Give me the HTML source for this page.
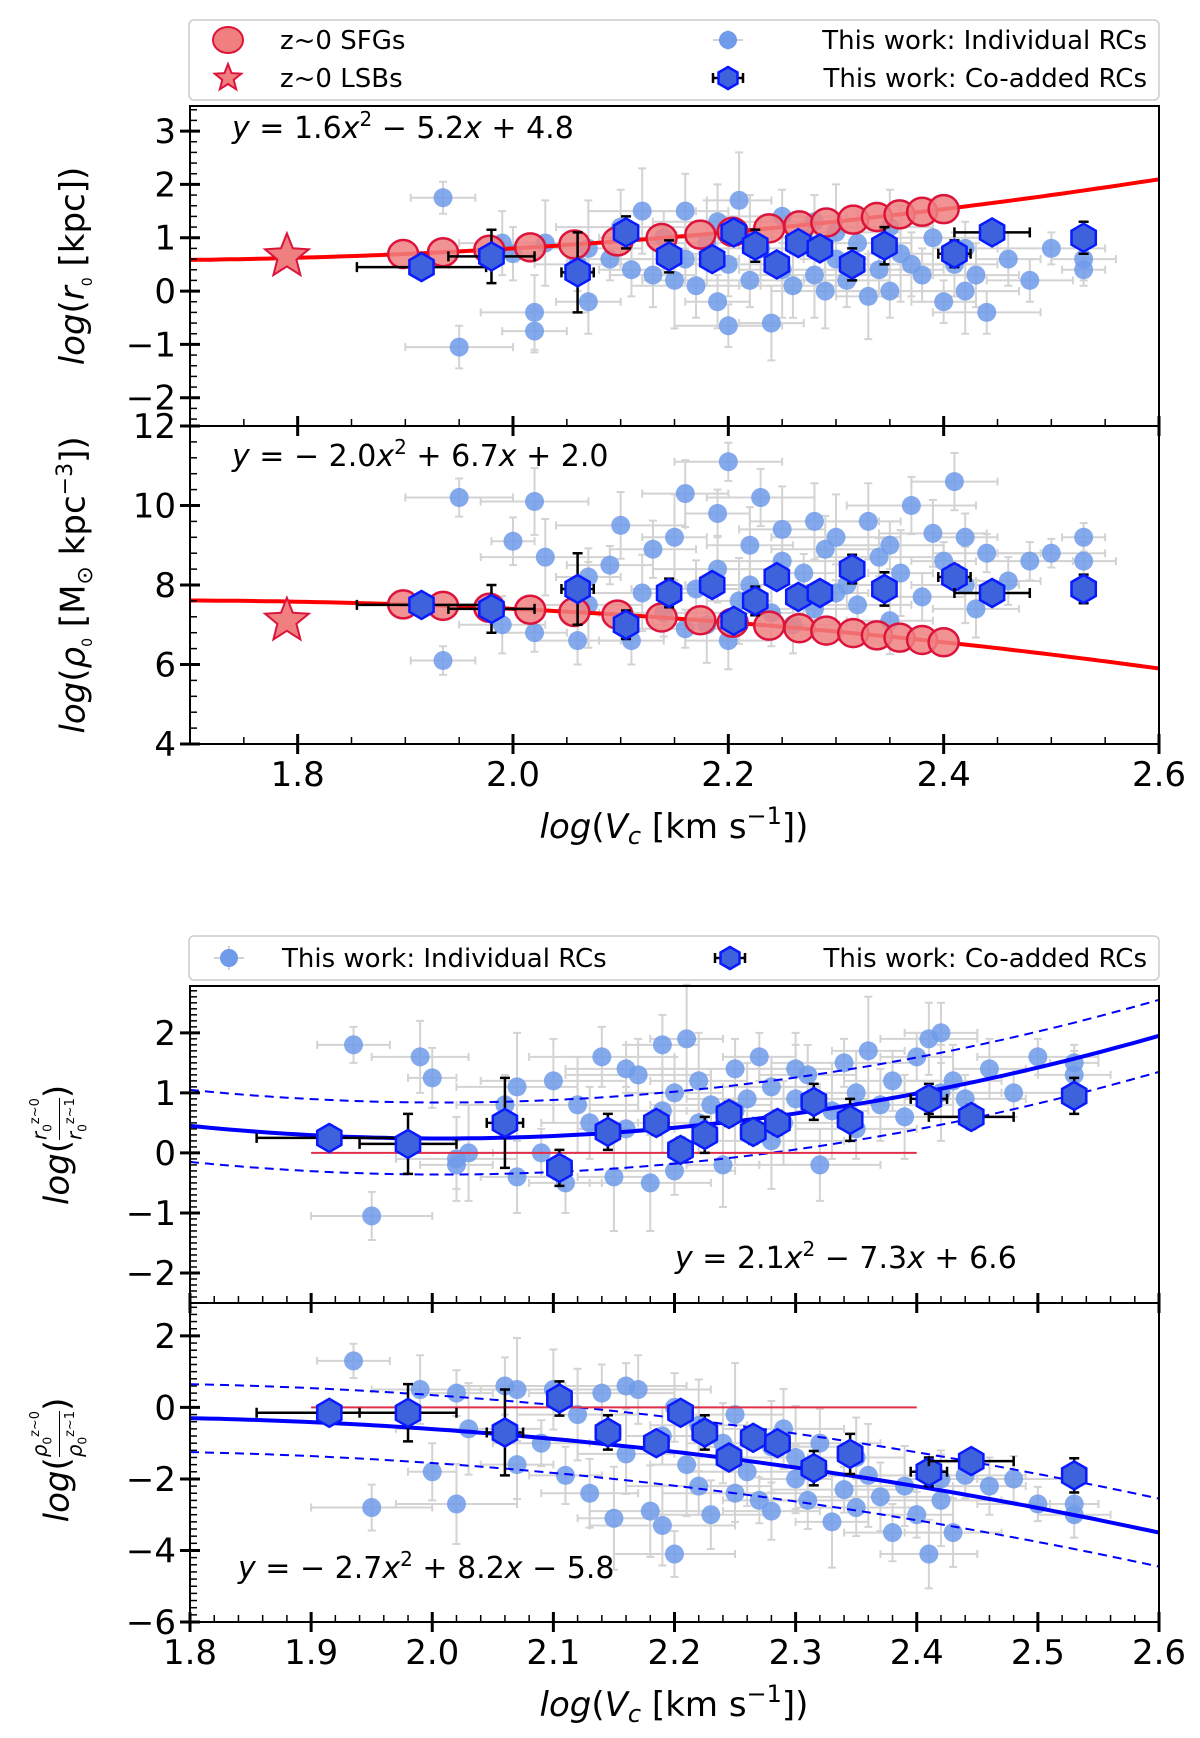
<!DOCTYPE html>
<html><head><meta charset="utf-8"><style>
body{margin:0;background:#fff;}
svg{display:block;font-family:"DejaVu Sans","Liberation Sans",sans-serif;}
</style></head><body>
<svg id="fig" width="1200" height="1738" viewBox="0 0 1200 1738" xmlns="http://www.w3.org/2000/svg"></svg>
<script>
const indX=[1.935,1.95,1.99,2.0,2.02,2.02,2.03,2.06,2.07,2.07,2.09,2.10,2.11,2.12,2.13,2.14,2.15,2.16,2.16,2.17,2.18,2.19,2.19,2.2,2.2,2.21,2.22,2.22,2.23,2.24,2.25,2.25,2.26,2.27,2.28,2.28,2.29,2.3,2.3,2.31,2.32,2.33,2.34,2.35,2.35,2.36,2.37,2.38,2.39,2.4,2.41,2.42,2.42,2.43,2.44,2.46,2.48,2.5,2.53,2.53];
const indY1=[1.75,-1.05,0.9,0.7,-0.4,-0.75,0.9,0.5,-0.2,0.8,0.6,1.2,0.4,1.5,0.3,1.0,0.2,0.6,1.5,0.1,0.9,-0.2,1.3,0.5,-0.65,1.7,0.2,1.0,0.8,-0.6,1.4,0.4,0.1,1.0,0.3,1.3,0.0,0.6,1.1,0.2,0.9,-0.1,0.4,1.2,0.0,0.7,0.5,0.3,1.0,-0.2,0.5,0.0,0.8,0.3,-0.4,0.6,0.2,0.8,0.4,0.6];
const indY2=[6.1,10.2,7.0,9.1,10.1,6.8,8.7,6.6,8.2,7.5,8.5,9.5,6.6,7.8,8.9,7.3,9.2,6.9,10.3,7.9,7.0,9.8,8.4,6.6,11.1,7.6,8.0,9.0,10.2,7.3,8.6,9.4,7.0,8.3,9.6,7.4,8.9,7.8,9.2,8.0,7.5,9.6,8.7,7.1,9.0,8.3,10.0,7.7,9.3,8.6,10.6,8.0,9.2,7.4,8.8,8.1,8.6,8.8,9.2,8.6];
const indY3=[1.8,-1.05,1.6,1.25,-0.1,-0.2,0.0,0.8,-0.4,1.1,0.0,1.2,-0.5,0.8,0.5,1.6,-0.4,1.4,0.4,1.3,-0.5,1.8,0.7,1.0,-0.3,1.9,0.5,1.2,0.8,-0.2,1.4,0.7,0.9,1.6,0.2,1.1,0.5,1.4,0.9,1.3,-0.2,0.7,1.5,1.0,0.4,1.7,0.8,1.2,0.6,1.6,1.9,1.0,2.0,1.2,0.9,1.4,1.0,1.6,1.5,1.3];
const indY4=[1.3,-2.8,0.5,-1.8,-2.7,0.4,-0.6,0.6,-1.6,0.5,-1.0,0.5,-1.9,-0.2,-2.4,0.4,-3.1,0.6,-1.3,0.5,-2.9,-0.8,-3.3,0.0,-4.1,-1.6,-2.2,-0.5,-3.0,-1.0,-2.4,-0.2,-1.8,-2.6,-1.1,-2.9,-0.6,-2.0,-1.4,-2.6,-1.0,-3.2,-2.3,-1.4,-2.8,-1.9,-2.5,-3.5,-2.2,-3.0,-4.1,-2.6,-2.0,-3.5,-1.9,-2.2,-2.0,-2.7,-2.7,-3.0];
const indXerr=[0.03,0.05,0.04,0.02,0.05,0.03,0.06,0.04,0.03,0.05,0.04,0.06,0.03,0.05,0.04,0.06,0.03,0.05,0.04,0.06,0.05,0.03,0.06,0.04,0.05,0.03,0.06,0.04,0.05,0.03,0.06,0.04,0.05,0.03,0.06,0.04,0.05,0.03,0.06,0.04,0.05,0.03,0.06,0.04,0.05,0.03,0.06,0.04,0.05,0.03,0.04,0.05,0.03,0.04,0.05,0.03,0.04,0.05,0.02,0.03];
const indYerr=[0.3,0.4,0.6,0.5,0.7,0.4,0.8,0.5,0.6,0.9,0.4,0.7,0.5,0.8,0.6,0.5,0.9,0.4,0.7,0.6,0.8,0.5,0.7,0.6,0.4,0.9,0.5,0.8,0.6,0.7,0.5,0.9,0.6,0.4,0.8,0.5,0.7,0.6,0.9,0.5,0.6,0.8,0.4,0.7,0.5,0.9,0.6,0.5,0.7,0.4,0.6,0.8,0.5,0.6,0.4,0.5,0.4,0.3,0.3,0.4];
const coX=[1.915,1.98,2.06,2.105,2.145,2.185,2.205,2.225,2.245,2.265,2.285,2.315,2.345,2.41,2.445,2.53];
const coXerr=[0.06,0.04,0.015,0.01,0.01,0.01,0.01,0.01,0.01,0.01,0.01,0.01,0.01,0.015,0.035,0.005];
const coY1=[0.45,0.65,0.35,1.1,0.65,0.6,1.1,0.85,0.5,0.9,0.8,0.5,0.85,0.7,1.1,1.0];
const coY2=[7.5,7.4,7.9,7.0,7.8,8.0,7.1,7.6,8.2,7.7,7.8,8.4,7.9,8.2,7.8,7.9];
const coY3=[0.25,0.15,0.5,-0.25,0.35,0.5,0.05,0.3,0.65,0.35,0.5,0.85,0.55,0.9,0.6,0.95];
const coY4=[-0.15,-0.15,-0.7,0.25,-0.7,-1.0,-0.15,-0.7,-1.4,-0.85,-1.0,-1.7,-1.3,-1.8,-1.5,-1.9];
const coYerr=[0.15,0.5,0.75,0.3,0.3,0.2,0.2,0.3,0.2,0.2,0.2,0.3,0.35,0.25,0.2,0.3];
const sfgX=[1.898,1.935,1.978,2.016,2.057,2.097,2.138,2.174,2.204,2.238,2.266,2.291,2.316,2.338,2.359,2.38,2.40];
const lsbX=[1.79];const lsbY1=[0.65];const lsbY2=[7.1];
const fit1=[1.6,-5.2,4.8], fit2=[-2.0,6.7,2.0];
const fit3Pts=[[1.8,0.45],[2.2,0.42],[2.6,1.95]], fit3Band=0.6;
const fit4Pts=[[1.8,-0.3],[2.2,-1.24],[2.6,-3.5]], fit4Band=0.95;

const NS='http://www.w3.org/2000/svg';
const svg=document.getElementById('fig');
function el(tag,attrs,parent,text){const e=document.createElementNS(NS,tag);for(const k in attrs)e.setAttribute(k,attrs[k]);if(text!==undefined)e.textContent=text;(parent||svg).appendChild(e);return e;}
function lag(pts){return x=>{let s=0;for(let i=0;i<3;i++){let t=pts[i][1];for(let j=0;j<3;j++)if(j!==i)t*=(x-pts[j][0])/(pts[i][0]-pts[j][0]);s+=t;}return s;};}
function quad(c){return x=>c[0]*x*x+c[1]*x+c[2];}
const L=190,R=1159;
function mkAxis(x0,x1,yTop,yBot,v0,v1){return {sx:v=>L+(v-x0)/(x1-x0)*(R-L),sy:v=>yTop+(v1-v)/(v1-v0)*(yBot-yTop),yTop,yBot,x0,x1,v0,v1};}
function hexPts(cx,cy,r){let p=[];for(let i=0;i<6;i++){const a=Math.PI/180*(60*i-90);p.push((cx+r*Math.cos(a)).toFixed(1)+','+(cy+r*Math.sin(a)).toFixed(1));}return p.join(' ');}
function starPts(cx,cy,R1,r1){let p=[];for(let i=0;i<10;i++){const a=Math.PI/180*(36*i-90),rr=i%2?r1:R1;p.push((cx+rr*Math.cos(a)).toFixed(1)+','+(cy+rr*Math.sin(a)).toFixed(1));}return p.join(' ');}
function curve(ax,f,a,b,g,attrs){let d='';for(let i=0;i<=100;i++){const x=a+(b-a)*i/100;d+=(i?'L':'M')+ax.sx(x).toFixed(1)+','+ax.sy(f(x)).toFixed(1);}const p=el('path',Object.assign({d,fill:'none'},attrs),g);return p;}
function drawFrame(ax,g,yticks,minorStep,xticks,xminor,showXLabels){
  el('rect',{x:L,y:ax.yTop,width:R-L,height:ax.yBot-ax.yTop,fill:'none',stroke:'#000','stroke-width':2},g);
  for(let v=Math.ceil(ax.v0/minorStep)*minorStep;v<=ax.v1+1e-9;v+=minorStep){const y=ax.sy(v);el('line',{x1:L,x2:L+7,y1:y,y2:y,stroke:'#000','stroke-width':1.5},g);}
  yticks.forEach(v=>{const y=ax.sy(v);el('line',{x1:L-10,x2:L+10,y1:y,y2:y,stroke:'#000','stroke-width':3},g);
    const t=el('text',{x:L-14,y:y+12,'text-anchor':'end','font-size':34},g,(v<0?'\u2212'+(-v):''+v));});
  for(let v=Math.ceil(ax.x0/xminor-1e-9)*xminor;v<=ax.x1+1e-9;v+=xminor){const x=ax.sx(v);el('line',{x1:x,x2:x,y1:ax.yBot,y2:ax.yBot-7,stroke:'#000','stroke-width':1.5},g);}
  xticks.forEach(v=>{const x=ax.sx(v);el('line',{x1:x,x2:x,y1:ax.yBot+10,y2:ax.yBot-10,stroke:'#000','stroke-width':3},g);
    if(showXLabels){const t=el('text',{x:x,y:ax.yBot+42,'text-anchor':'middle','font-size':34},g,v.toFixed(1));}});
}
function drawInd(ax,ys,g,yscale){
  indX.forEach((x,i)=>{const cx=ax.sx(x),cy=ax.sy(ys[i]);const dx=ax.sx(x+indXerr[i])-cx,dy=cy-ax.sy(ys[i]+indYerr[i]*yscale);
    el('path',{d:`M${cx-dx},${cy}H${cx+dx}M${cx},${cy-dy}V${cy+dy}M${cx-dx},${cy-4}v8M${cx+dx},${cy-4}v8M${cx-4},${cy-dy}h8M${cx-4},${cy+dy}h8`,stroke:'#d3d3d3','stroke-width':2,fill:'none'},g);});
  indX.forEach((x,i)=>{const c=el('circle',{cx:ax.sx(x),cy:ax.sy(ys[i]),r:9.5,fill:'#6f9bea','fill-opacity':0.85},g);});
}
function drawCo(ax,ys,g,yscale){
  coX.forEach((x,i)=>{const cx=ax.sx(x),cy=ax.sy(ys[i]);const dx=ax.sx(x+coXerr[i])-cx,dy=cy-ax.sy(ys[i]+coYerr[i]*yscale);
    el('path',{d:`M${cx-dx},${cy}H${cx+dx}M${cx},${cy-dy}V${cy+dy}M${cx-dx},${cy-5}v10M${cx+dx},${cy-5}v10M${cx-5},${cy-dy}h10M${cx-5},${cy+dy}h10`,stroke:'#000','stroke-width':2.5,fill:'none'},g);
    const h=el('polygon',{points:hexPts(cx,cy,14),fill:'#3d62dc',stroke:'#0a1aff','stroke-width':2.5},g);});
}
function ylab(x,y,html,g){const fo=el('foreignObject',{x:x-200,y:y-35,width:400,height:70,transform:`rotate(-90 ${x} ${y})`},g);const d=document.createElement('div');d.style.cssText='width:400px;height:70px;line-height:70px;text-align:center;font:34px "DejaVu Sans",sans-serif;white-space:nowrap;';d.innerHTML=html;fo.appendChild(d);return fo;}

// ---- Legend 1
const lg1=el('g',{});
el('rect',{x:189,y:20,width:970,height:80,rx:5,fill:'#fff',stroke:'#ccc','stroke-width':1.5},lg1);
el('ellipse',{cx:228,cy:40,rx:15,ry:13,fill:'#f08080',stroke:'#dc143c','stroke-width':2},lg1);
el('polygon',{points:starPts(228,78,14,6),fill:'#f08080',stroke:'#dc143c','stroke-width':2},lg1);
el('text',{x:280,y:49,'font-size':26},lg1,'z~0 SFGs');
el('text',{x:280,y:87,'font-size':26},lg1,'z~0 LSBs');
el('path',{d:'M713,40h30M728,30v20',stroke:'#d3d3d3','stroke-width':2},lg1);
el('circle',{cx:728,cy:40,r:9,fill:'#6f9bea'},lg1);
el('path',{d:'M713,78h30M728,66v24M713,73v10M743,73v10',stroke:'#000','stroke-width':2.5},lg1);
el('polygon',{points:hexPts(728,78,11),fill:'#3d62dc',stroke:'#0a1aff','stroke-width':2.5},lg1);
el('text',{x:1147,y:49,'font-size':26,'text-anchor':'end'},lg1,'This work: Individual RCs');
el('text',{x:1147,y:87,'font-size':26,'text-anchor':'end'},lg1,'This work: Co-added RCs');

// ---- Panel 1
const a1=mkAxis(1.7,2.6,106,426,-2.53,3.47);
const g1=el('g',{});
drawInd(a1,indY1,g1,1);
curve(a1,quad(fit1),1.7,2.6,g1,{stroke:'#ff0000','stroke-width':4});
sfgX.forEach(x=>{const e=el('ellipse',{cx:a1.sx(x),cy:a1.sy(quad(fit1)(x)),rx:15,ry:14,fill:'#f08080','fill-opacity':0.85,stroke:'#dc143c','stroke-width':2.5},g1);});
drawCo(a1,coY1,g1,1);
lsbX.forEach((x,i)=>{const s=el('polygon',{points:starPts(a1.sx(x),a1.sy(lsbY1[i]),23,10),fill:'#f08080',stroke:'#dc143c','stroke-width':2},g1);});
drawFrame(a1,g1,[-2,-1,0,1,2,3],0.2,[1.8,2.0,2.2,2.4,2.6],0.05,false);
el('text',{x:232,y:138,'font-size':30},g1,'').innerHTML='<tspan font-style="italic">y</tspan> = 1.6<tspan font-style="italic">x</tspan><tspan dy="-12" font-size="20">2</tspan><tspan dy="12"> − 5.2</tspan><tspan font-style="italic">x</tspan> + 4.8';
ylab(88,266,'<i>log</i>(<i>r</i><sub style="font-size:14px">0</sub> [kpc])',g1);

// ---- Panel 2
const a2=mkAxis(1.7,2.6,426,744,4,12);
const g2=el('g',{});
drawInd(a2,indY2,g2,1.2);
curve(a2,quad(fit2),1.7,2.6,g2,{stroke:'#ff0000','stroke-width':4});
sfgX.forEach(x=>{const e=el('ellipse',{cx:a2.sx(x),cy:a2.sy(quad(fit2)(x)),rx:15,ry:14,fill:'#f08080','fill-opacity':0.85,stroke:'#dc143c','stroke-width':2.5},g2);});
drawCo(a2,coY2,g2,1.2);
lsbX.forEach((x,i)=>{const s=el('polygon',{points:starPts(a2.sx(x),a2.sy(lsbY2[i]),23,10),fill:'#f08080',stroke:'#dc143c','stroke-width':2},g2);});
drawFrame(a2,g2,[4,6,8,10,12],0.4,[1.8,2.0,2.2,2.4,2.6],0.05,true);
el('text',{x:232,y:466,'font-size':30},g2,'').innerHTML='<tspan font-style="italic">y</tspan> = − 2.0<tspan font-style="italic">x</tspan><tspan dy="-12" font-size="20">2</tspan><tspan dy="12"> + 6.7</tspan><tspan font-style="italic">x</tspan> + 2.0';
ylab(88,585,'<i>log</i>(<i>ρ</i><sub style="font-size:14px">0</sub> [M<sub style="font-size:22px">⊙</sub> kpc<sup style="font-size:22px">−3</sup>])',g2);
const xl1=el('text',{x:674,y:838,'text-anchor':'middle','font-size':34},svg,'');xl1.innerHTML='<tspan font-style="italic">log</tspan>(<tspan font-style="italic">V</tspan><tspan font-style="italic" font-size="24" dy="6">c</tspan><tspan dy="-6"> [km s</tspan><tspan dy="-14" font-size="24">−1</tspan><tspan dy="14">])</tspan>';


// ---- Legend 2
const lg2=el('g',{});
el('rect',{x:189,y:936,width:970,height:44,rx:5,fill:'#fff',stroke:'#ccc','stroke-width':1.5},lg2);
el('path',{d:'M214,958h30M229,946v24',stroke:'#d3d3d3','stroke-width':2},lg2);
el('circle',{cx:229,cy:958,r:9,fill:'#6f9bea'},lg2);
el('text',{x:282,y:967,'font-size':26},lg2,'This work: Individual RCs');
el('path',{d:'M715,958h30M730,946v24M715,953v10M745,953v10',stroke:'#000','stroke-width':2.5},lg2);
el('polygon',{points:hexPts(730,958,11),fill:'#3d62dc',stroke:'#0a1aff','stroke-width':2.5},lg2);
el('text',{x:1147,y:967,'font-size':26,'text-anchor':'end'},lg2,'This work: Co-added RCs');

// ---- Panel 3
const a3=mkAxis(1.8,2.6,986,1303,-2.5,2.78);
const g3=el('g',{});
drawInd(a3,indY3,g3,1);
const f3=lag(fit3Pts);
curve(a3,f3,1.8,2.6,g3,{stroke:'#0000ff','stroke-width':4});
curve(a3,x=>f3(x)+fit3Band,1.8,2.6,g3,{stroke:'#0000ff','stroke-width':2,'stroke-dasharray':'9,6'});
curve(a3,x=>f3(x)-fit3Band,1.8,2.6,g3,{stroke:'#0000ff','stroke-width':2,'stroke-dasharray':'9,6'});
curve(a3,x=>0,1.9,2.4,g3,{stroke:'#e0304a','stroke-width':2});
drawCo(a3,coY3,g3,1);
drawFrame(a3,g3,[-2,-1,0,1,2],0.1,[1.8,1.9,2.0,2.1,2.2,2.3,2.4,2.5,2.6],0.02,false);
el('text',{x:675,y:1268,'font-size':30},g3,'').innerHTML='<tspan font-style="italic">y</tspan> = 2.1<tspan font-style="italic">x</tspan><tspan dy="-12" font-size="20">2</tspan><tspan dy="12"> − 7.3</tspan><tspan font-style="italic">x</tspan> + 6.6';
ylab(60,1145,'<i>log</i>(<span style="display:inline-flex;flex-direction:column;align-items:center;font-size:20px;vertical-align:middle;line-height:22px"><span><i>r</i><sub style="font-size:12px">0</sub><sup style="font-size:13px">z~0</sup></span><span style="border-top:1.5px solid #000"><i>r</i><sub style="font-size:12px">0</sub><sup style="font-size:13px">z~1</sup></span></span>)',g3);

// ---- Panel 4
const a4=mkAxis(1.8,2.6,1303,1622,-6,2.92);
const g4=el('g',{});
drawInd(a4,indY4,g4,1.6);
const f4=lag(fit4Pts);
curve(a4,f4,1.8,2.6,g4,{stroke:'#0000ff','stroke-width':4});
curve(a4,x=>f4(x)+fit4Band,1.8,2.6,g4,{stroke:'#0000ff','stroke-width':2,'stroke-dasharray':'9,6'});
curve(a4,x=>f4(x)-fit4Band,1.8,2.6,g4,{stroke:'#0000ff','stroke-width':2,'stroke-dasharray':'9,6'});
curve(a4,x=>0,1.9,2.4,g4,{stroke:'#e0304a','stroke-width':2});
drawCo(a4,coY4,g4,1.6);
drawFrame(a4,g4,[-6,-4,-2,0,2],0.2,[1.8,1.9,2.0,2.1,2.2,2.3,2.4,2.5,2.6],0.02,true);
el('text',{x:238,y:1578,'font-size':30},g4,'').innerHTML='<tspan font-style="italic">y</tspan> = − 2.7<tspan font-style="italic">x</tspan><tspan dy="-12" font-size="20">2</tspan><tspan dy="12"> + 8.2</tspan><tspan font-style="italic">x</tspan> − 5.8';
ylab(60,1460,'<i>log</i>(<span style="display:inline-flex;flex-direction:column;align-items:center;font-size:20px;vertical-align:middle;line-height:22px"><span><i>ρ</i><sub style="font-size:12px">0</sub><sup style="font-size:13px">z~0</sup></span><span style="border-top:1.5px solid #000"><i>ρ</i><sub style="font-size:12px">0</sub><sup style="font-size:13px">z~1</sup></span></span>)',g4);
const xl2=el('text',{x:674,y:1716,'text-anchor':'middle','font-size':34},svg,'');xl2.innerHTML='<tspan font-style="italic">log</tspan>(<tspan font-style="italic">V</tspan><tspan font-style="italic" font-size="24" dy="6">c</tspan><tspan dy="-6"> [km s</tspan><tspan dy="-14" font-size="24">−1</tspan><tspan dy="14">])</tspan>';

</script>
</body></html>
